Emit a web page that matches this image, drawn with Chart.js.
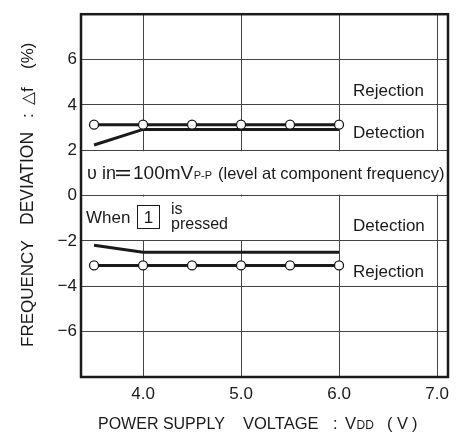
<!DOCTYPE html>
<html>
<head>
<meta charset="utf-8">
<script src="https://cdn.jsdelivr.net/npm/chart.js@4"></script>
<style>
html,body{margin:0;padding:0;background:#fff;}
#wrap{width:463px;height:433px;position:relative;}
</style>
</head>
<body>
<div id="wrap"><canvas id="c" width="463" height="433"></canvas></div>
<script>
const voltages = [3.5, 4.0, 4.5, 5.0, 5.5, 6.0];
const rejectionUpper = [3.13, 3.13, 3.13, 3.13, 3.13, 3.13];
const detectionUpper = [2.23, 2.92, 2.92, 2.92, 2.92, 2.92];
const detectionLower = [-2.19, -2.5, -2.5, -2.5, -2.5, -2.5];
const rejectionLower = [-3.08, -3.08, -3.08, -3.08, -3.08, -3.08];
const xTickValues = [4, 5, 6, 7];
const yTickValues = [-8, -6, -4, -2, 0, 2, 4, 6, 8];

const FONT = '"Liberation Sans", Arial, Helvetica, sans-serif';
const INK = '#1a1a1a';

function pts(ys){ return voltages.map((v,i)=>({x:v,y:ys[i]})); }

const lineDs = (label, ys) => ({label, data: pts(ys), showLine:true, borderColor:INK, borderWidth:3, pointRadius:0, fill:false, order:2});
const markDs = (label, ys) => ({label, data: pts(ys), showLine:true, borderColor:INK, borderWidth:3,
  pointRadius:4.5, pointBackgroundColor:'#fff', pointBorderColor:INK, pointBorderWidth:1.3, fill:false, order:1});

function seg(ctx, text, x, y, size){ ctx.font = size + 'px ' + FONT; ctx.fillText(text, x, y); return x + ctx.measureText(text).width; }

const overlay = {
  id:'overlay',
  beforeDatasetsDraw(chart){
    const {ctx, chartArea:a, scales:{x,y}} = chart;
    ctx.save();
    ctx.fillStyle = '#fff';
    ctx.fillRect(a.left+1, y.getPixelForValue(2)+1, a.right-a.left-2, y.getPixelForValue(0)-y.getPixelForValue(2)-2);
    ctx.fillRect(a.left+1, y.getPixelForValue(0)+1, 168, y.getPixelForValue(-2)-y.getPixelForValue(0)-2);
    ctx.restore();
  },
  afterDraw(chart){
    const {ctx, chartArea:a, scales:{x,y}} = chart;
    ctx.save();
    ctx.strokeStyle = INK; ctx.lineWidth = 2.5;
    ctx.strokeRect(a.left, a.top, a.right-a.left, a.bottom-a.top);
    ctx.fillStyle = INK;
    ctx.textAlign = 'left';
    ctx.textBaseline = 'alphabetic';
    // series labels
    seg(ctx, 'Rejection', 353, 96, 17);
    seg(ctx, 'Detection', 353, 138, 17);
    seg(ctx, 'Detection', 353, 231, 17);
    seg(ctx, 'Rejection', 353, 277, 17);

    // nu in = 100mV P-P (level at component frequency)
    const by = 179;
    seg(ctx, '\u03C5', 87, by, 18);
    seg(ctx, 'in', 102, by, 18);
    ctx.fillRect(116, by-9, 14, 1.6);
    ctx.fillRect(116, by-4.5, 14, 1.6);
    let r = seg(ctx, '100mV', 133, by, 19);
    seg(ctx, 'P-P', r + 0.5, by, 11);
    seg(ctx, '(level at component frequency)', 218, by, 16.5);

    // When [1] is pressed
    seg(ctx, 'When', 86, 223, 17);
    ctx.lineWidth = 1;
    ctx.strokeRect(137.5, 205.5, 22, 23);
    ctx.textAlign = 'center';
    seg(ctx, '1', 148.5, 223, 17);
    ctx.textAlign = 'left';
    seg(ctx, 'is', 171, 214, 16);
    seg(ctx, 'pressed', 171, 229, 16);

    // y title (rotated, reading bottom to top)
    ctx.save();
    ctx.translate(33, 0);
    ctx.rotate(-Math.PI/2);
    seg(ctx, 'FREQUENCY', -347, 0, 17);
    seg(ctx, 'DEVIATION', -225, 0, 17.5);
    seg(ctx, ':', -118, 0, 17);
    seg(ctx, '\u25B3f', -105, 0, 17);
    seg(ctx, '(%)', -69, 0, 17);
    ctx.restore();

    // x title
    const ty = 429;
    seg(ctx, 'POWER SUPPLY', 98, ty, 16);
    seg(ctx, 'VOLTAGE', 243, ty, 16.5);
    seg(ctx, ':', 333, ty, 16.5);
    seg(ctx, 'V', 345, ty, 16.5);
    seg(ctx, 'DD', 356.5, ty, 12);
    seg(ctx, '(', 387, ty, 16.5);
    seg(ctx, 'V', 397, ty, 16.5);
    seg(ctx, ')', 412, ty, 16.5);
    ctx.restore();
  }
};

new Chart(document.getElementById('c'), {
  type:'scatter',
  data:{ datasets:[
    lineDs('Detection (upper)', detectionUpper),
    lineDs('Detection (lower)', detectionLower),
    markDs('Rejection (upper)', rejectionUpper),
    markDs('Rejection (lower)', rejectionLower)
  ]},
  options:{
    responsive:false, animation:false, devicePixelRatio:1,
    layout:{ padding:{ left:0, top:10, right:15, bottom:0 } },
    plugins:{ legend:{display:false}, tooltip:{enabled:false} },
    scales:{
      x:{ type:'linear', min:3.367, max:7.112,
        afterBuildTicks(s){ s.ticks = xTickValues.map(v=>({value:v})); },
        afterFit(s){ s.height = 56; },
        grid:{ color:'#444', lineWidth:1, drawTicks:false },
        border:{ display:false },
        ticks:{ padding:7, color:INK, font:{family:FONT, size:17}, callback:v=>Number(v).toFixed(1), maxRotation:0 }
      },
      y:{ type:'linear', min:-8, max:8,
        afterBuildTicks(s){ s.ticks = yTickValues.map(v=>({value:v})); },
        afterFit(s){ s.width = 81; },
        grid:{ color:'#444', lineWidth:1, drawTicks:false },
        border:{ display:false },
        ticks:{ padding:4, color:INK, font:{family:FONT, size:17},
          callback:v=> (v===8||v===-8) ? '' : (v<0 ? '\u2212'+Math.abs(v) : String(v)) }
      }
    }
  },
  plugins:[overlay]
});
</script>
</body>
</html>
